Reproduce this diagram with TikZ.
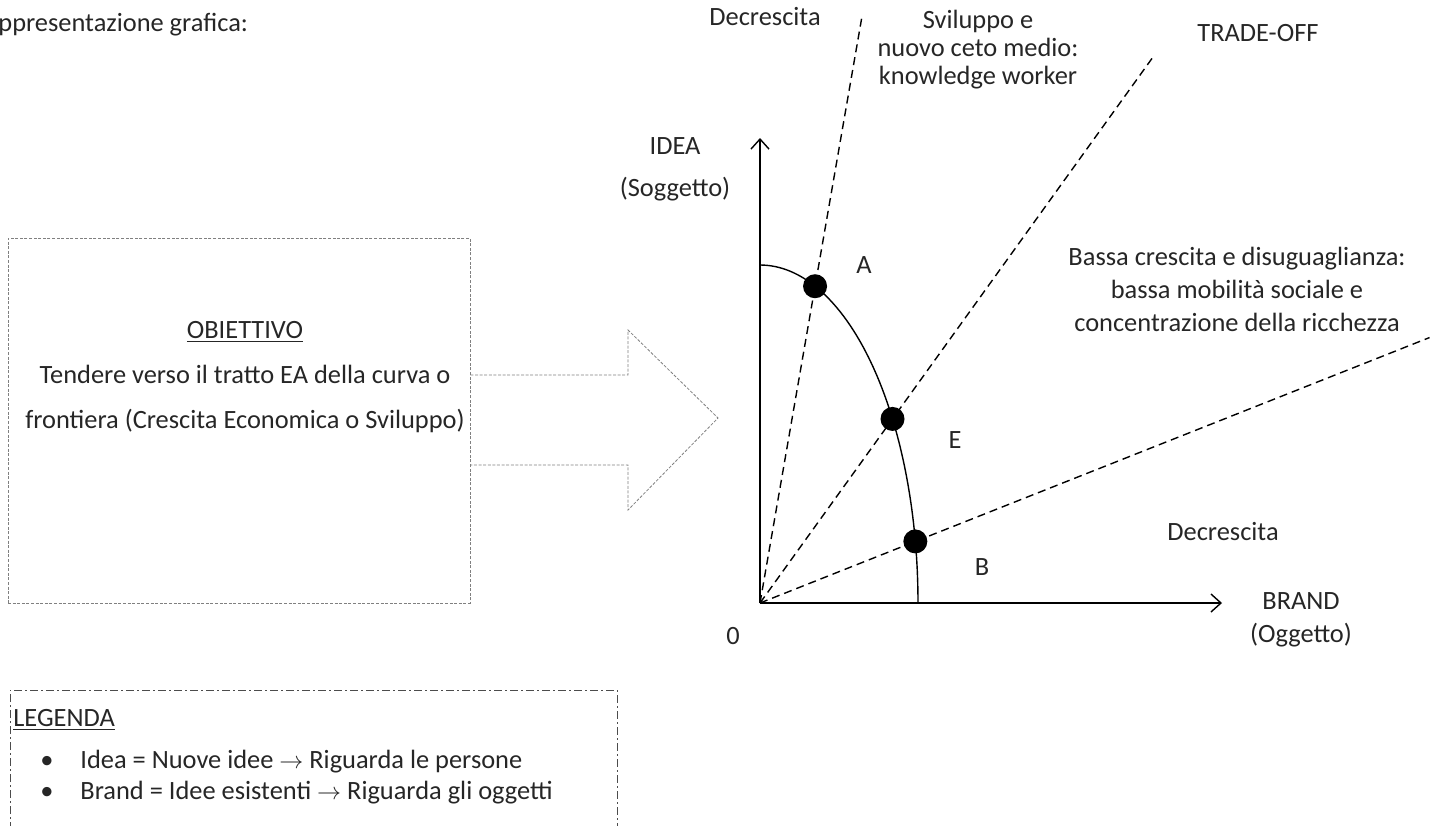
\documentclass[tikz,border=0pt]{standalone}
\usepackage{fontspec}
\setmainfont{Carlito}
\usetikzlibrary{arrows.meta,calc}

\begin{document}
\begin{tikzpicture}[> = {Straight Barb[length=5pt,width=9pt]}, % arrow head style
	x=0.5pt, y=-0.5pt, % one unit = one pixel of the sketch
	every node/.style={font=\fontsize{13.2}{14}\selectfont, text=black!85, inner sep=0pt},
	axis/.style={->, line width=0.7pt},
	ray/.style={line width=0.7pt, dash pattern=on 4pt off 2.5pt},
	dot/.style={circle, fill=black, minimum size=12pt},
	frame/.style={draw=gray, line width=0.4pt, dash pattern=on 1.5pt off 0.8pt},
	legframe/.style={draw=black!70, line width=0.4pt, dash pattern=on 4pt off 1.5pt on 1pt off 1.5pt}]
	\useasboundingbox (0,0) rectangle (1434,825);

	\node[anchor=west] (title) at (-2,25) {ppresentazione grafica:};

	% obiettivo box and block arrow
	\node[frame, minimum width=231pt, minimum height=182.5pt] (obj) at (239,420.5) {};
	\draw[frame] (obj.east |- 0,375) -- (628,375) -- (628,330) -- (718,418)
		-- (628,510) -- (628,465) -- (obj.east |- 0,465);
	\node[align=center, font=\fontsize{13.2}{22.5}\selectfont] (objtxt) at (245,377)
		{\underline{OBIETTIVO}\\Tendere verso il tratto EA della curva o\\frontiera (Crescita Economica o Sviluppo)};

	% legenda
	\draw[legframe] (10,830) -- (10,690) -- (617,690) -- (617,830);
	\node[anchor=west] (leg) at (13,720) {\underline{LEGENDA}};
	\node (b1) at (47,762) {\textbullet};
	\node (b2) at (47,793) {\textbullet};
	\node[anchor=west] (i1) at (80,762) {Idea = Nuove idee $\rightarrow$ Riguarda le persone};
	\node[anchor=west] (i2) at (80,793) {Brand = Idee esistenti $\rightarrow$ Riguarda gli oggetti};

	% axes
	\coordinate (O) at (760,603);
	\coordinate (ytop) at (760,138);
	\coordinate (xend) at (1222,603);
	\draw[axis] (O) -- (ytop);
	\draw[axis] (O) -- (xend);

	% frontier
	\draw[line width=0.7pt] plot[domain=0:90, samples=80] ({760+158*cos(\x)}, {603-338*sin(\x)});

	\coordinate (pA) at ({760+158*cos(69.6)}, {603-338*sin(69.6)});
	\coordinate (pE) at ({760+158*cos(33)}, {603-338*sin(33)});
	\coordinate (pB) at ({760+158*cos(10.5)}, {603-338*sin(10.5)});
	\coordinate (rA) at ($(O)!1.855!(pA)$);
	\coordinate (rE) at ($(O)!2.97!(pE)$);
	\coordinate (rB) at ($(O)!4.31!(pB)$);

	\draw[ray] (O) -- (rA);
	\draw[ray] (O) -- (rE);
	\draw[ray] (O) -- (rB);

	\node[dot] (A) at (pA) {};
	\node[dot] (E) at (pE) {};
	\node[dot] (B) at (pB) {};

	% labels
	\node (lA) at (864,265) {A};
	\node (lE) at (955,440) {E};
	\node (lB) at (982,567) {B};
	\node (zero) at (733,636) {0};
	\node[align=center, font=\fontsize{13.2}{21}\selectfont] (idea) at (675,169) {IDEA\\(Soggetto)};
	\node[align=center, font=\fontsize{13.2}{16.5}\selectfont] (brand) at (1301,620) {BRAND\\(Oggetto)};
	\node (dec1) at (765,17) {Decrescita};
	\node (dec2) at (1223,532) {Decrescita};
	\node[align=center] (svil) at (978,50) {Sviluppo e\\nuovo ceto medio:\\knowledge worker};
	\node (trade) at (1258,33) {TRADE-OFF};
	\node[align=center, font=\fontsize{13.2}{16.5}\selectfont] (bassa) at (1237,289)
		{Bassa crescita e disuguaglianza:\\bassa mobilità sociale e\\concentrazione della ricchezza};

\end{tikzpicture}
\end{document}
